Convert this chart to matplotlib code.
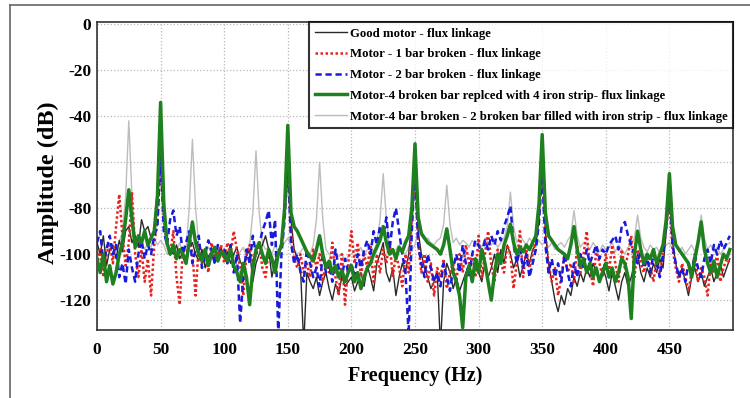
import numpy as np
import matplotlib
matplotlib.use("Agg")
import matplotlib.pyplot as plt
from matplotlib.lines import Line2D

# frequency grid (Hz), 2.5 Hz spacing
freq = [2.5 * i for i in range(200)]

good_motor = [
    -95, -100, -92, -105, -98, -96, -102, -94, -99, -90, -88, -95, -92, -97, -85, -90, -88, -93, -90, -70,
    -50, -80, -95, -98, -100, -96, -102, -99, -104, -97, -95, -100, -103, -98, -106, -101, -99, -104, -100, -97,
    -102, -99, -104, -100, -97, -103, -106, -101, -98, -112, -104, -100, -96, -92, -98, -110, -103, -99, -95, -80,
    -55, -85, -98, -102, -106, -140, -108, -112, -115, -110, -118, -112, -108, -115, -120, -113, -117, -110, -114, -112,
    -110, -116, -112, -108, -114, -105, -110, -116, -104, -100, -95, -108, -112, -106, -118, -110, -104, -108, -100, -85,
    -60, -90, -100, -106, -110, -115, -112, -108, -140, -112, -104, -108, -115, -110, -116, -112, -108, -105, -110, -106,
    -108, -112, -104, -110, -106, -100, -108, -98, -104, -96, -100, -106, -102, -110, -105, -100, -104, -98, -96, -85,
    -60, -90, -104, -112, -120, -125, -118, -122, -115, -118, -110, -114, -108, -112, -106, -110, -104, -108, -112, -106,
    -110, -116, -108, -114, -120, -112, -108, -114, -110, -104, -100, -108, -112, -106, -110, -104, -108, -102, -106, -90,
    -75, -95, -104, -110, -106, -112, -118, -110, -106, -112, -108, -114, -110, -106, -112, -108, -104, -110, -106, -102,
]

one_bar = [
    -105, -98, -110, -100, -95, -104, -88, -74, -92, -105, -95, -73, -100, -110, -98, -112, -102, -118, -96, -85,
    -60, -85, -96, -100, -90, -110, -122, -98, -104, -92, -100, -118, -96, -104, -98, -108, -95, -102, -100, -96,
    -104, -95, -100, -90, -98, -106, -118, -100, -96, -104, -100, -95, -106, -110, -98, -102, -108, -100, -96, -82,
    -65, -90, -102, -106, -100, -108, -104, -110, -98, -106, -100, -112, -104, -108, -95, -110, -118, -100, -122, -104,
    -90, -104, -95, -110, -100, -106, -96, -112, -100, -108, -98, -104, -94, -110, -100, -106, -114, -100, -108, -85,
    -65, -95, -108, -100, -112, -104, -118, -106, -110, -102, -115, -108, -104, -112, -100, -108, -96, -104, -100, -110,
    -92, -110, -100, -90, -105, -112, -98, -104, -108, -96, -100, -115, -104, -90, -110, -98, -106, -100, -94, -80,
    -62, -92, -104, -112, -106, -118, -110, -100, -108, -104, -112, -96, -108, -100, -90, -106, -114, -98, -104, -110,
    -100, -108, -96, -104, -112, -98, -106, -100, -92, -110, -98, -104, -108, -100, -106, -112, -102, -108, -100, -88,
    -78, -98, -106, -112, -104, -110, -116, -108, -100, -112, -106, -110, -118, -104, -108, -100, -112, -106, -102, -104,
]

two_bar = [
    -95, -90, -104, -98, -92, -100, -96, -110, -104, -113, -98, -106, -112, -100, -94, -102, -96, -100, -92, -88,
    -55, -90, -96, -85, -81, -92, -88, -100, -95, -90, -104, -98, -92, -106, -100, -94, -98, -104, -96, -100,
    -98, -104, -96, -108, -100, -130, -110, -98, -104, -92, -100, -96, -90, -86, -81, -96, -85, -135, -100, -85,
    -58, -95, -104, -100, -108, -112, -98, -104, -110, -106, -114, -100, -108, -104, -112, -98, -106, -110, -102, -108,
    -104, -110, -100, -106, -98, -94, -100, -90, -96, -88, -92, -84, -98, -86, -80, -90, -100, -108, -135, -90,
    -62, -96, -104, -110, -100, -106, -112, -108, -114, -104, -110, -116, -106, -100, -108, -96, -104, -110, -100, -94,
    -96, -100, -94, -98, -92, -96, -90, -94, -88, -84, -79, -96, -104, -98, -106, -100, -110, -104, -98, -86,
    -64, -96, -108, -102, -110, -104, -112, -100, -108, -114, -104, -110, -100, -106, -98, -104, -100, -96, -102, -98,
    -100, -96, -94, -92, -98, -88, -86, -92, -96, -100, -104, -98, -106, -102, -108, -100, -104, -110, -100, -88,
    -70, -96, -104, -110, -106, -112, -104, -108, -100, -106, -110, -102, -98, -104, -96, -100, -94, -98, -95, -92,
]

iron_strip4 = [
    -102, -108, -100, -112, -105, -113, -108, -100, -95, -85, -72, -85, -97, -92, -95, -90, -96, -93, -90, -75,
    -34, -78, -95, -100, -96, -102, -98, -100, -104, -95, -86, -95, -100, -103, -98, -105, -100, -97, -103, -99,
    -100, -103, -98, -105, -108, -112, -104, -110, -122, -106, -98, -95, -100, -104, -98, -102, -108, -100, -96, -80,
    -44, -82, -88, -90, -93, -96, -99, -101, -103, -98, -92, -100, -106, -103, -108, -105, -110, -107, -112, -108,
    -105, -112, -108, -115, -110, -106, -104, -100, -97, -94, -88, -95, -100, -98, -102, -97, -99, -95, -92, -80,
    -52, -84, -91, -93, -95, -96, -97, -98, -100, -96, -89, -98, -108, -112, -118, -132, -110, -105, -112, -102,
    -108, -98, -104, -112, -120, -108, -100, -104, -96, -92, -87, -95, -100, -97, -99, -96, -98, -95, -92, -78,
    -48, -82, -92, -94, -96, -98, -99, -100, -102, -96, -88, -98, -105, -102, -108, -104, -110, -106, -112, -108,
    -104, -110, -106, -112, -108, -102, -104, -110, -128, -100, -90, -98, -104, -100, -102, -98, -104, -100, -96, -85,
    -65, -88, -96, -98, -100, -102, -104, -110, -102, -95, -86, -98, -104, -108, -103, -110, -105, -100, -102, -98,
]

filled2 = [
    -100, -98, -102, -96, -99, -101, -97, -95, -90, -75, -42, -75, -92, -96, -94, -98, -95, -97, -93, -96,
    -94, -96, -100, -98, -97, -99, -95, -100, -98, -80, -50, -80, -96, -98, -100, -97, -99, -101, -98, -100,
    -99, -101, -98, -100, -103, -99, -97, -101, -96, -82, -55, -82, -95, -98, -97, -100, -96, -99, -97, -95,
    -93, -96, -98, -100, -99, -97, -101, -100, -96, -85, -60, -85, -98, -100, -102, -99, -101, -100, -103, -101,
    -100, -98, -99, -97, -101, -98, -96, -99, -95, -85, -65, -85, -97, -99, -98, -96, -99, -100, -97, -98,
    -96, -90, -92, -94, -93, -95, -96, -94, -93, -87, -70, -87, -95, -93, -96, -94, -95, -97, -94, -96,
    -95, -97, -93, -95, -96, -94, -97, -95, -93, -88, -73, -88, -95, -92, -94, -96, -93, -95, -97, -94,
    -96, -94, -97, -95, -98, -96, -95, -97, -94, -92, -81, -92, -97, -95, -96, -98, -95, -97, -99, -96,
    -98, -97, -95, -99, -96, -98, -100, -97, -96, -93, -83, -93, -97, -99, -96, -98, -97, -100, -98, -96,
    -95, -98, -96, -99, -97, -100, -98, -96, -99, -93, -83, -93, -98, -96, -99, -97, -100, -98, -96, -95,
]

labels = [
    "Good motor - flux linkage",
    "Motor - 1 bar broken - flux linkage",
    "Motor - 2 bar broken - flux linkage",
    "Motor-4 broken bar replced with 4 iron strip- flux linkage",
    "Motor-4 bar broken - 2 broken bar filled with iron strip - flux linkage",
]
xticks = [0, 50, 100, 150, 200, 250, 300, 350, 400, 450]
yticks = [0, -20, -40, -60, -80, -100, -120]

plt.rcParams['font.family'] = ['Liberation Serif', 'DejaVu Serif']
plt.rcParams['font.weight'] = 'bold'

fig = plt.figure(figsize=(7.5, 3.98), dpi=100)
ax = fig.add_axes([97/750, 1-330/398, (733-97)/750, (330-22)/398])

h5, = ax.plot(freq, filled2, color='#bdbdbd', lw=1.0, zorder=2)
h1, = ax.plot(freq, good_motor, color='#2a2a2a', lw=1.0, zorder=3)
h2, = ax.plot(freq, one_bar, color='#e8231f', lw=1.8, ls=(0, (1, 1)), zorder=4)
h3, = ax.plot(freq, two_bar, color='#1a1adc', lw=1.8, ls=(0, (2.5, 1.5)), zorder=5)
h4, = ax.plot(freq, iron_strip4, color='#1e801e', lw=2.5, zorder=6)

ax.set_xlim(0, 500)
ax.set_ylim(-133, 1)
ax.set_xticks(xticks)
ax.set_yticks(yticks)
ax.set_xticklabels([str(v) for v in xticks], fontsize=12.5, fontweight='bold')
ax.set_yticklabels([str(v) for v in yticks], fontsize=12.5, fontweight='bold')
ax.tick_params(axis='x', length=0, pad=9)
ax.tick_params(axis='y', length=0, pad=4)
ax.grid(True, ls=':', color='#b8b8b8', lw=0.9)
ax.set_axisbelow(True)
for s in ax.spines.values():
    s.set_color('#333333')
    s.set_linewidth(1.2)

ax.set_xlabel("Frequency (Hz)", fontsize=14.5, fontweight='bold')
ax.xaxis.set_label_coords(0.5, (330 - 366) / 308)
ax.set_ylabel("Amplitude (dB)", fontsize=17.5, fontweight='bold')
ax.yaxis.set_label_coords((59 - 97) / 636, (330 - 183) / 308)

leg = ax.legend([h1, h2, h3, h4, h5], labels, loc='upper right', bbox_to_anchor=(1, 1),
                borderaxespad=0, frameon=True, fancybox=False,
                handlelength=2.5, handletextpad=0.2, labelspacing=0.68,
                borderpad=0.45, prop={'weight': 'bold', 'size': 9.2})
leg.get_frame().set_edgecolor('black')
leg.get_frame().set_linewidth(1.5)
leg.set_zorder(10)

# outer image frame
fig.add_artist(Line2D([10/750, 10/750], [0, 1-5/398], color='#666666', lw=1.2))
fig.add_artist(Line2D([10/750, 1], [1-5/398, 1-5/398], color='#666666', lw=1.2))

fig.savefig("out.png", dpi=100)
